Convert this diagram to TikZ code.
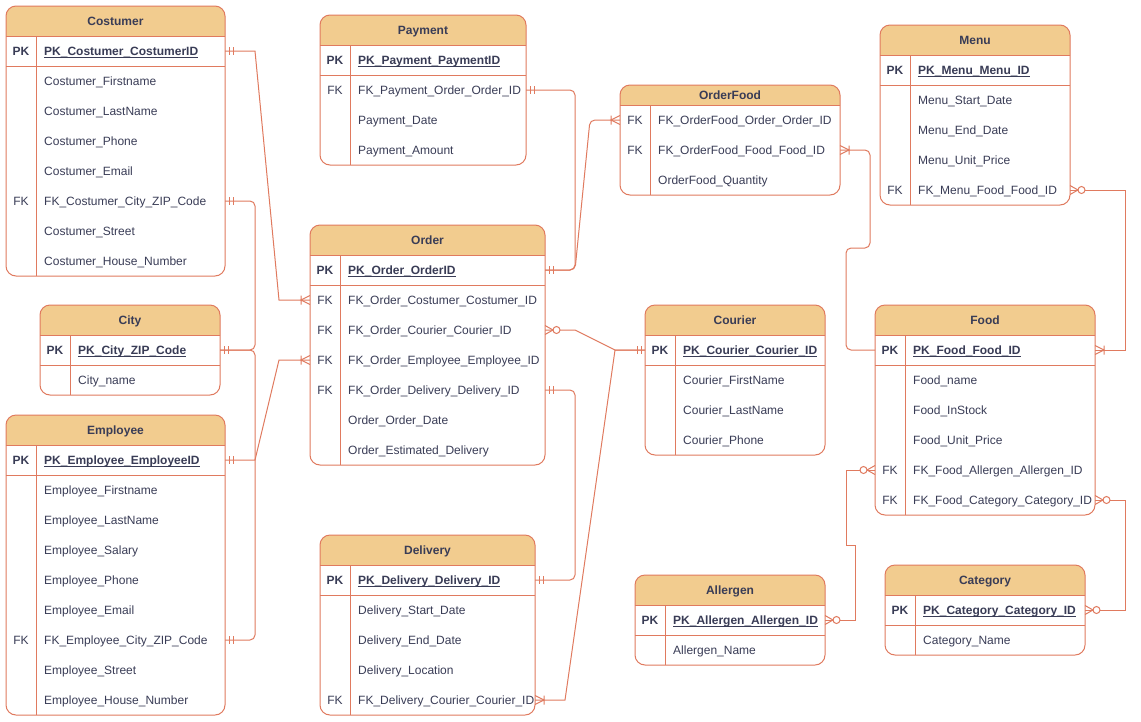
\documentclass[tikz,border=0pt]{standalone}
\usepackage{fontspec}
\setmainfont{Liberation Sans}
\usetikzlibrary{calc}
\definecolor{erstroke}{HTML}{E07A5F}
\definecolor{erfill}{HTML}{F2CC8F}
\definecolor{ertext}{HTML}{393C56}
\newcommand\erfont{\fontsize{12}{14}\selectfont}
\newcommand\erul[1]{\setbox0\hbox{#1}\rlap{\rule[-2.3pt]{\wd0}{0.9pt}}\box0}
\def\erP{p}
\def\erF{f}
\tikzset{
  erline/.style={draw=erstroke,line width=1pt},
  erconn/.style={draw=erstroke,line width=1pt},
  errow/.style={anchor=west,minimum height=30pt,inner sep=0pt,outer sep=0pt},
  erkey/.style={anchor=base,inner sep=0pt,text=ertext,font=\erfont},
  erfield/.style={anchor=base west,inner sep=0pt,text=ertext,font=\erfont},
  ertitle/.style={anchor=base,inner sep=0pt,text=ertext,font=\erfont\bfseries},
  mone/.pic={\draw[erline] (4,-4) -- (4,4) (8,-4) -- (8,4);},
  mmany/.pic={\draw[erline] (0,-4.5) -- (9,0) -- (0,4.5) (9,-4.5) -- (9,4.5);},
  omany/.pic={\draw[erline] (0,-4.5) -- (8,0) -- (0,4.5); \draw[erline,fill=white] (11.5,0) circle (3.5pt);},
}
\newcommand\ertable[8]{%
  \pgfmathsetmacro\erB{#3+#5+30*#6}%
  \fill[white,rounded corners=10pt] (#2,#3) rectangle (#2+#4,\erB);
  \begin{scope}
    \clip (#2,#3) rectangle (#2+#4,#3+#5);
    \fill[erfill,rounded corners=10pt] (#2,#3) rectangle (#2+#4,\erB);
  \end{scope}
  \draw[erline,rounded corners=10pt] (#2,#3) rectangle (#2+#4,\erB);
  \draw[erline] (#2,#3+#5) -- (#2+#4,#3+#5) (#2+30,#3+#5) -- (#2+30,\erB);
  \node[ertitle] (#1) at (#2+#4/2,#3+#5/2+4.3) {#7};
  \foreach \erk/\ertx [count=\i] in {#8}{%
    \pgfmathsetmacro\yc{#3+#5+30*\i-15}
    \node[errow,minimum width=#4] (#1-\i) at (#2,\yc) {};
    \ifx\erk\erP
      \node[erkey,font=\erfont\bfseries] (#1-\i-k) at (#2+15,\yc+4.3) {PK};
      \node[erfield,font=\erfont\bfseries] (#1-\i-t) at (#2+38,\yc+4.3) {\erul{\ertx}};
      \draw[erline] (#2,\yc+15) -- (#2+#4,\yc+15);
    \else
      \ifx\erk\erF
        \node[erkey] (#1-\i-k) at (#2+15,\yc+4.3) {FK};
      \fi
      \node[erfield] (#1-\i-t) at (#2+38,\yc+4.3) {\ertx};
    \fi
  }%
}
\begin{document}
\begin{tikzpicture}[x=1pt,y=-1pt]
\fill[white] (0,0) rectangle (1141,721);
\useasboundingbox (0,0) rectangle (1141,721);

\ertable{cost}{6}{6}{219}{30}{8}{Costumer}{p/PK\_Costumer\_CostumerID, n/Costumer\_Firstname, n/Costumer\_LastName, n/Costumer\_Phone, n/Costumer\_Email, f/FK\_Costumer\_City\_ZIP\_Code, n/Costumer\_Street, n/Costumer\_House\_Number}
\ertable{pay}{320}{15}{206}{30}{4}{Payment}{p/PK\_Payment\_PaymentID, f/FK\_Payment\_Order\_Order\_ID, n/Payment\_Date, n/Payment\_Amount}
\ertable{of}{620}{85}{220}{20}{3}{OrderFood}{f/FK\_OrderFood\_Order\_Order\_ID, f/FK\_OrderFood\_Food\_Food\_ID, n/OrderFood\_Quantity}
\ertable{menu}{880}{25}{190}{30}{5}{Menu}{p/PK\_Menu\_Menu\_ID, n/Menu\_Start\_Date, n/Menu\_End\_Date, n/Menu\_Unit\_Price, f/FK\_Menu\_Food\_Food\_ID}
\ertable{order}{310}{225}{235}{30}{7}{Order}{p/PK\_Order\_OrderID, f/FK\_Order\_Costumer\_Costumer\_ID, f/FK\_Order\_Courier\_Courier\_ID, f/FK\_Order\_Employee\_Employee\_ID, f/FK\_Order\_Delivery\_Delivery\_ID, n/Order\_Order\_Date, n/Order\_Estimated\_Delivery}
\ertable{city}{40}{305}{180}{30}{2}{City}{p/PK\_City\_ZIP\_Code, n/City\_name}
\ertable{emp}{6}{415}{219}{30}{9}{Employee}{p/PK\_Employee\_EmployeeID, n/Employee\_Firstname, n/Employee\_LastName, n/Employee\_Salary, n/Employee\_Phone, n/Employee\_Email, f/FK\_Employee\_City\_ZIP\_Code, n/Employee\_Street, n/Employee\_House\_Number}
\ertable{courier}{645}{305}{180}{30}{4}{Courier}{p/PK\_Courier\_Courier\_ID, n/Courier\_FirstName, n/Courier\_LastName, n/Courier\_Phone}
\ertable{food}{875}{305}{220}{30}{6}{Food}{p/PK\_Food\_Food\_ID, n/Food\_name, n/Food\_InStock, n/Food\_Unit\_Price, f/FK\_Food\_Allergen\_Allergen\_ID, f/FK\_Food\_Category\_Category\_ID}
\ertable{del}{320}{535}{215}{30}{5}{Delivery}{p/PK\_Delivery\_Delivery\_ID, n/Delivery\_Start\_Date, n/Delivery\_End\_Date, n/Delivery\_Location, f/FK\_Delivery\_Courier\_Courier\_ID}
\ertable{allergen}{635}{575}{190}{30}{2}{Allergen}{p/PK\_Allergen\_Allergen\_ID, n/Allergen\_Name}
\ertable{cat}{885}{565}{200}{30}{2}{Category}{p/PK\_Category\_Category\_ID, n/Category\_Name}

% connectors
\draw[erconn] (cost-1.east) -- ++(30,0) -- ($(order-2.west)+(-31,0)$) -- (order-2.west);
\draw[erconn,rounded corners=5pt] (cost-6.east) -- ++(30,0) |- (city-1.east);
\draw[erconn,rounded corners=5pt] (emp-7.east) -- ++(30,0) |- (city-1.east);
\draw[erconn] (emp-1.east) -- ++(30,0) -- ($(order-4.west)+(-31,0)$) -- (order-4.west);
\draw[erconn,rounded corners=5pt] (pay-2.east) -- ++(49,0) |- (order-1.east);
\draw[erconn,rounded corners=5pt] (order-1.east) -- ++(30,0) -- ($(of-1.west)+(-30,0)$) -- (of-1.west);
\draw[erconn] (order-3.east) -- ++(30,0) -- ($(courier-1.west)+(-30,0)$) -- (courier-1.west);
\draw[erconn] (courier-1.west) -- ++(-30,0) -- ($(del-5.east)+(30,0)$) -- (del-5.east);
\draw[erconn,rounded corners=5pt] (order-5.east) -- ++(30,0) |- (del-1.east);
\draw[erconn,rounded corners=5pt] (of-2.east) -- ++(30,0) -- ++(0,98) -- ++(-24,0) |- (food-1.west);
\draw[erconn] (menu-5.east) -- ++(55,0) |- (food-1.east);
\draw[erconn] (food-5.west) -- ++(-29,0) -- ++(0,75) -- ++(9,0) |- (allergen-1.east);
\draw[erconn] (food-6.east) -- ++(30,0) |- (cat-1.east);

% markers
\pic at (cost-1.east) {mone};
\pic[xscale=-1] at (order-2.west) {mmany};
\pic at (cost-6.east) {mone};
\pic at (city-1.east) {mone};
\pic at (emp-7.east) {mone};
\pic at (emp-1.east) {mone};
\pic[xscale=-1] at (order-4.west) {mmany};
\pic at (pay-2.east) {mone};
\pic at (order-1.east) {mone};
\pic[xscale=-1] at (of-1.west) {mmany};
\pic at (order-3.east) {omany};
\pic[xscale=-1] at (courier-1.west) {mone};
\pic at (del-5.east) {mmany};
\pic at (order-5.east) {mone};
\pic at (del-1.east) {mone};
\pic at (of-2.east) {mmany};
\pic at (menu-5.east) {omany};
\pic at (food-1.east) {mmany};
\pic[xscale=-1] at (food-5.west) {omany};
\pic at (allergen-1.east) {omany};
\pic at (food-6.east) {omany};
\pic at (cat-1.east) {omany};
\end{tikzpicture}
\end{document}
